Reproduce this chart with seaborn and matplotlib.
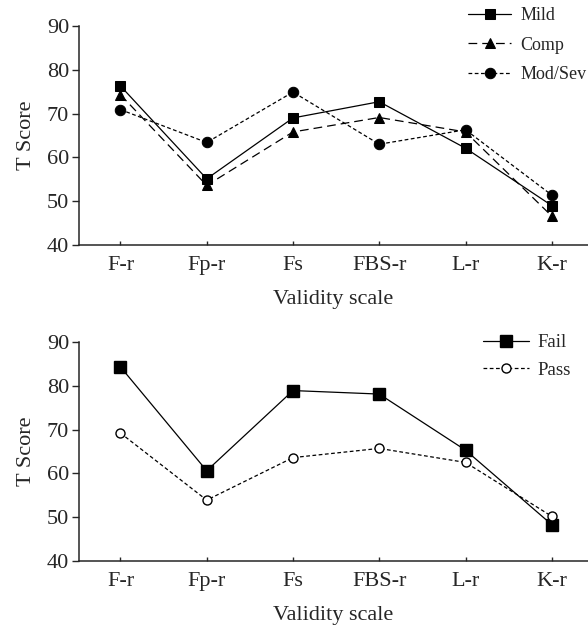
import numpy as np
import pandas as pd
import matplotlib
matplotlib.use("Agg")
import matplotlib.pyplot as plt
import seaborn as sns

scales = ["F-r", "Fp-r", "Fs", "FBS-r", "L-r", "K-r"]

# top panel: severity groups
mild = [76.3, 55.1, 69.0, 72.7, 62.1, 49.0]
comp = [74.3, 53.6, 65.8, 69.1, 65.8, 46.6]
mod_sev = [70.9, 63.4, 74.9, 63.0, 66.3, 51.4]

# bottom panel: validity test result
fail = [84.3, 60.6, 78.9, 78.1, 65.3, 48.3]
pass_ = [69.2, 53.9, 63.6, 65.7, 62.5, 50.2]

top_df = pd.DataFrame({"scale": scales * 3,
                       "score": mild + comp + mod_sev,
                       "group": ["Mild"] * 6 + ["Comp"] * 6 + ["Mod/Sev"] * 6})
bot_df = pd.DataFrame({"scale": scales * 2,
                       "score": fail + pass_,
                       "group": ["Fail"] * 6 + ["Pass"] * 6})

sns.set_style("ticks")
plt.rcParams["font.family"] = ["Liberation Serif", "DejaVu Serif"]

fig = plt.figure(figsize=(5.88, 6.26), dpi=100)
ax1 = fig.add_axes([0.134, 0.6086, 0.866, 0.35])
ax2 = fig.add_axes([0.134, 0.1038, 0.866, 0.3500])

### top panel
top_styles = {
    "Mild": dict(linestyle="-", marker="s", markersize=7.5),
    "Comp": dict(linestyle=(0, (7, 4)), marker="^", markersize=7.5),
    "Mod/Sev": dict(linestyle=(0, (3, 2)), marker="o", markersize=7.5),
}
for name, st in top_styles.items():
    sns.lineplot(data=top_df[top_df["group"] == name], x="scale", y="score",
                 ax=ax1, color="black", linewidth=0.9, label=name,
                 markerfacecolor="black", markeredgecolor="black", **st)

### bottom panel
bot_styles = {
    "Fail": dict(linestyle="-", marker="s", markersize=8,
                 markerfacecolor="black"),
    "Pass": dict(linestyle=(0, (3, 2)), marker="o", markersize=6.5,
                 markerfacecolor="white"),
}
for name, st in bot_styles.items():
    sns.lineplot(data=bot_df[bot_df["group"] == name], x="scale", y="score",
                 ax=ax2, color="black", linewidth=0.9, label=name,
                 markeredgecolor="black", markeredgewidth=1.0, **st)

for ax in (ax1, ax2):
    ax.set_xlim(-0.483, 5.42)
    ax.set_ylim(40, 90)
    ax.set_yticks([40, 50, 60, 70, 80, 90])
    ax.set_xlabel("Validity scale", fontsize=16, labelpad=11)
    ax.set_ylabel("T Score", fontsize=16, labelpad=8)
    ax.tick_params(axis="y", direction="out", length=5, width=1, labelsize=16, pad=2)
    ax.tick_params(axis="x", direction="in", length=3, width=1, labelsize=16, pad=8)
    ax.spines["top"].set_visible(False)
    ax.spines["right"].set_visible(False)
    ax.spines["left"].set_linewidth(1.1)
    ax.spines["bottom"].set_linewidth(1.1)

ax1.legend(loc="upper left", bbox_to_anchor=(468 / 588, 1 - 7 / 626),
           bbox_transform=fig.transFigure, frameon=False, fontsize=13,
           handlelength=2.4, handletextpad=0.5, labelspacing=0.7,
           borderpad=0, borderaxespad=0)
ax2.legend(loc="upper left", bbox_to_anchor=(483 / 588, 1 - 334 / 626),
           bbox_transform=fig.transFigure, frameon=False, fontsize=13.5,
           handlelength=2.45, handletextpad=0.45, labelspacing=0.55,
           borderpad=0, borderaxespad=0)

plt.savefig("out.png", dpi=100)
